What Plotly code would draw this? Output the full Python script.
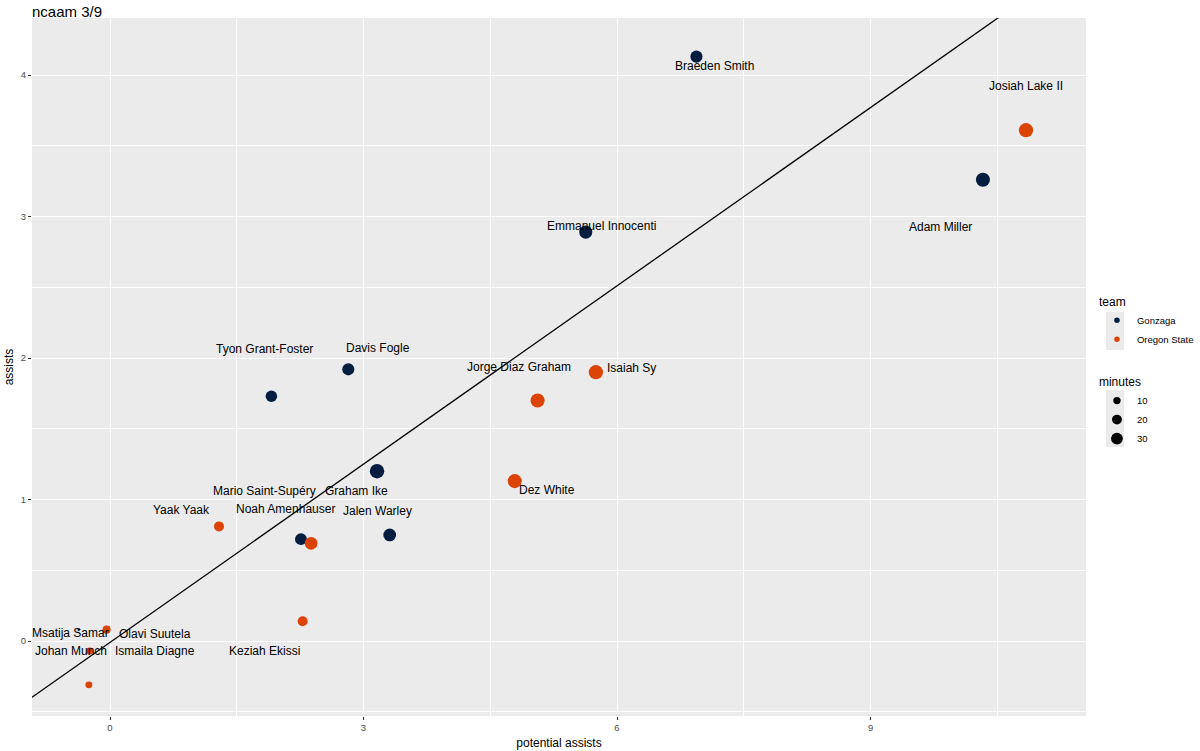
import plotly.graph_objects as go
import numpy as np

players = ["Braeden Smith", "Josiah Lake II", "Adam Miller", "Emmanuel Innocenti",
           "Tyon Grant-Foster", "Davis Fogle", "Jorge Diaz Graham", "Isaiah Sy",
           "Graham Ike", "Dez White", "Mario Saint-Supéry", "Noah Amenhauser",
           "Jalen Warley", "Yaak Yaak", "Keziah Ekissi", "Msatija Samar",
           "Olavi Suutela", "Johan Munch", "Ismaila Diagne"]
team = ["Gonzaga", "Oregon State", "Gonzaga", "Gonzaga",
        "Gonzaga", "Gonzaga", "Oregon State", "Oregon State",
        "Gonzaga", "Oregon State", "Gonzaga", "Oregon State",
        "Gonzaga", "Oregon State", "Oregon State", "Gonzaga",
        "Oregon State", "Oregon State", "Oregon State"]
potential_assists = [6.94, 10.84, 10.33, 5.63, 1.91, 2.82, 5.06, 5.75, 3.16, 4.79,
                     2.26, 2.38, 3.31, 1.29, 2.28, -0.37, -0.04, -0.24, -0.25]
assists = [4.13, 3.61, 3.26, 2.89, 1.73, 1.92, 1.70, 1.90, 1.20, 1.13,
           0.72, 0.69, 0.75, 0.81, 0.14, 0.08, 0.08, -0.07, -0.31]
minutes = [25, 36, 35, 30, 22, 25, 35, 36, 37, 35, 24, 28, 28, 16, 16, 2, 10, 7, 7]

# label nudges in px (x right, y up), roughly where ggrepel put them
label_dx = [18, 0, -42, 16, -7, 30, -19, 36, -21, 32, -36, -26, -12, -38, -38, -8, 48, -19, 66]
label_dy = [-9, 44, -47, 6, 47, 21, 33, 4, -20, -9, 48, 34, 24, 16, -30, -3, -4, 0, 34]

fit_slope = 0.42
fit_intercept = -0.01

legend_minutes = [10, 20, 30]
team_colors = {"Gonzaga": "#041E42", "Oregon State": "#DC4405"}

x_range = [-0.923, 11.55]
y_range = [-0.53, 4.403]

mn, mx = min(minutes), max(minutes)


def dot_size(m):
    # ggplot-ish area scale: radius grows with sqrt of rescaled minutes
    return 2.4 * (1 + 5 * np.sqrt((m - mn) / (mx - mn)))


fig = go.Figure()

line_x = np.array(x_range)
fig.add_trace(go.Scatter(x=line_x, y=fit_intercept + fit_slope * line_x, mode="lines",
                         line=dict(color="black", width=1.3), showlegend=False,
                         hoverinfo="skip"))

fig.add_trace(go.Scatter(
    x=potential_assists, y=assists, mode="markers", text=players,
    marker=dict(color=[team_colors[t] for t in team], opacity=1,
                size=[dot_size(m) for m in minutes], line=dict(width=0)),
    showlegend=False))

for i, name in enumerate(players):
    fig.add_annotation(x=potential_assists[i], y=assists[i], text=name, showarrow=False,
                       xshift=label_dx[i], yshift=label_dy[i],
                       font=dict(size=12, color="black"))

# legend: team
for t, c in team_colors.items():
    fig.add_trace(go.Scatter(x=[None], y=[None], mode="markers", name=t,
                             marker=dict(color=c, size=5.5, opacity=1), legend="legend"))
# legend: minutes
for m in legend_minutes:
    fig.add_trace(go.Scatter(x=[None], y=[None], mode="markers", name=str(m),
                             marker=dict(color="black", size=dot_size(m) * 0.9, opacity=1),
                             legend="legend2"))

# grey key backgrounds like ggplot's legend keys (paper coords of the plot area)
W, H = 1054, 698
key_boxes = [(1106, 312, 1124, 350), (1106, 390, 1124, 447)]
for x0, y0, x1, y1 in key_boxes:
    fig.add_shape(type="rect", xref="paper", yref="paper",
                  x0=(x0 - 32) / W, x1=(x1 - 32) / W,
                  y0=(716 - y1) / H, y1=(716 - y0) / H,
                  fillcolor="#EBEBEB", line=dict(width=0), layer="below")

axis_common = dict(
    showgrid=True, gridcolor="white", gridwidth=1.1, zeroline=False,
    ticks="outside", ticklen=3, tickcolor="#333333", tickwidth=1,
    tickfont=dict(size=9.5, color="#4D4D4D"), showline=False, automargin=False,
    title_font=dict(size=12, color="black"),
)

fig.update_xaxes(range=x_range, tick0=0, dtick=3, title_text="potential assists",
                 title_standoff=6,
                 minor=dict(dtick=1.5, showgrid=True, gridcolor="white", gridwidth=0.5),
                 **axis_common)
fig.update_yaxes(range=y_range, tick0=0, dtick=1, title_text="assists",
                 title_standoff=4,
                 minor=dict(dtick=0.5, showgrid=True, gridcolor="white", gridwidth=0.5),
                 **axis_common)

fig.update_layout(
    width=1200, height=751,
    margin=dict(l=32, r=114, t=18, b=35, autoexpand=False),
    paper_bgcolor="white", plot_bgcolor="#EBEBEB",
    font=dict(family="Liberation Sans, Arial, sans-serif", color="black"),
    title=dict(text="ncaam 3/9", x=32 / 1200, xanchor="left", y=1 - 12 / 751,
               yanchor="middle", font=dict(size=15, color="black")),
    legend=dict(title=dict(text="team", font=dict(size=12, color="black")),
                font=dict(size=9.5, color="black"),
                x=1.0104, xanchor="left", y=0.61, yanchor="top", itemsizing="trace",
                bgcolor="rgba(0,0,0,0)"),
    legend2=dict(title=dict(text="minutes", font=dict(size=12, color="black")),
                 font=dict(size=9.5, color="black"),
                 x=1.0104, xanchor="left", y=0.495, yanchor="top", itemsizing="trace",
                 bgcolor="rgba(0,0,0,0)"),
)

# drop the default 8px page margin so the figure sits at the window corner
fig.write_html("out.html", config={"displayModeBar": False},
               post_script="document.body.style.margin='0';")
